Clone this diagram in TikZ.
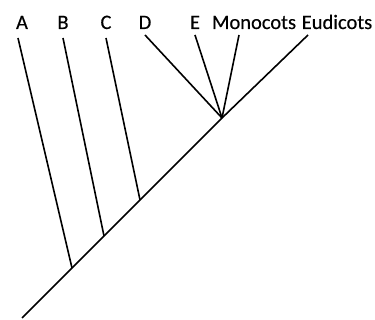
\documentclass[tikz,border=0pt]{standalone}
\usepackage{fontspec}
\setmainfont{Carlito}[FakeBold=0.4]
\begin{document}
\begin{tikzpicture}[x=1pt, y=1pt, line width=1.6pt, font=\fontsize{20.5}{24}\selectfont]

    % Style for taxon labels
    \tikzset{lbl/.style={inner sep=0pt, anchor=base}}

    % Vertical positions of label baselines and branch tips
    \def\ylabel{291}
    \def\ytip{284}

    \useasboundingbox (0,0) rectangle (375,320);

    % --- Taxon labels ---
    \node[lbl] (lA) at (22, \ylabel) {A};
    \node[lbl] (lB) at (63, \ylabel) {B};
    \node[lbl] (lC) at (106, \ylabel) {C};
    \node[lbl] (lD) at (145, \ylabel) {D};
    \node[lbl] (lE) at (195, \ylabel) {E};
    \node[lbl] (lMono) at (254, \ylabel) {Monocots};
    \node[lbl] (lEudi) at (337, \ylabel) {Eudicots};

    % --- Branch tips ---
    \coordinate (tA) at (18, \ytip-2);
    \coordinate (tB) at (63, \ytip-2);
    \coordinate (tC) at (106, \ytip-2);
    \coordinate (tD) at (145, \ytip+1);
    \coordinate (tE) at (195, \ytip+1);
    \coordinate (tMono) at (239, \ytip+1);
    \coordinate (tEudi) at (308, \ytip+1);

    % --- Junctions on the backbone ---
    \coordinate (root) at (22, 2);
    \coordinate (jA) at (72, 52);
    \coordinate (jB) at (104, 84);
    \coordinate (jC) at (140, 120);
    \coordinate (crown) at (222, 202);

    % Backbone
    \draw (root) -- (jA) -- (jB) -- (jC) -- (crown) -- (tEudi);

    % Side branches
    \draw (jA) -- (tA);
    \draw (jB) -- (tB);
    \draw (jC) -- (tC);

    % Polytomy at the crown
    \draw (crown) -- (tD);
    \draw (crown) -- (tE);
    \draw (crown) -- (tMono);
\end{tikzpicture}
\end{document}
